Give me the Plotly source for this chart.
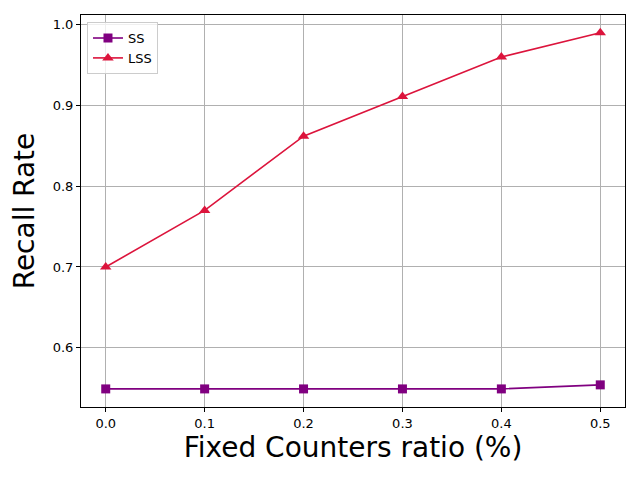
import plotly.graph_objects as go

ratios = [0.0, 0.1, 0.2, 0.3, 0.4, 0.5]
ss_recall = [0.549, 0.549, 0.549, 0.549, 0.549, 0.554]
lss_recall = [0.700, 0.770, 0.862, 0.911, 0.960, 0.990]
x_ticks = [0.0, 0.1, 0.2, 0.3, 0.4, 0.5]
y_ticks = [0.6, 0.7, 0.8, 0.9, 1.0]

fig = go.Figure()
fig.add_trace(go.Scatter(x=ratios, y=ss_recall, name="SS", mode="lines+markers",
                         line=dict(color="#800080", width=1.6),
                         marker=dict(symbol="square", size=9, color="#800080")))
fig.add_trace(go.Scatter(x=ratios, y=lss_recall, name="LSS", mode="lines+markers",
                         line=dict(color="#DC143C", width=1.6),
                         marker=dict(symbol="triangle-up", size=10, color="#DC143C")))

axis_common = dict(showline=True, linecolor="black", linewidth=1, mirror=True,
                   ticks="outside", ticklen=4, tickcolor="black",
                   showgrid=True, gridcolor="#b0b0b0", gridwidth=1, zeroline=False,
                   tickfont=dict(family="DejaVu Sans", size=13, color="black"))

fig.update_layout(
    width=632, height=472,
    margin=dict(l=73, r=15, t=7, b=73),
    paper_bgcolor="white", plot_bgcolor="white",
    font=dict(family="DejaVu Sans", color="black"),
    xaxis=dict(range=[-0.025, 0.525], tickvals=x_ticks,
               ticktext=[f"{v:.1f}" for v in x_ticks],
               title=dict(text="Fixed Counters ratio (%)", font=dict(size=28), standoff=7),
               **axis_common),
    yaxis=dict(range=[0.5266, 1.012], tickvals=y_ticks,
               ticktext=[f"{v:.1f}" for v in y_ticks],
               title=dict(text="Recall Rate", font=dict(size=28), standoff=11),
               **axis_common),
    legend=dict(x=0.011, y=0.982, xanchor="left", yanchor="top",
                bgcolor="rgba(255,255,255,0.8)", bordercolor="#cccccc", borderwidth=1,
                font=dict(size=13)),
    showlegend=True,
)

fig.write_html("out.html")
